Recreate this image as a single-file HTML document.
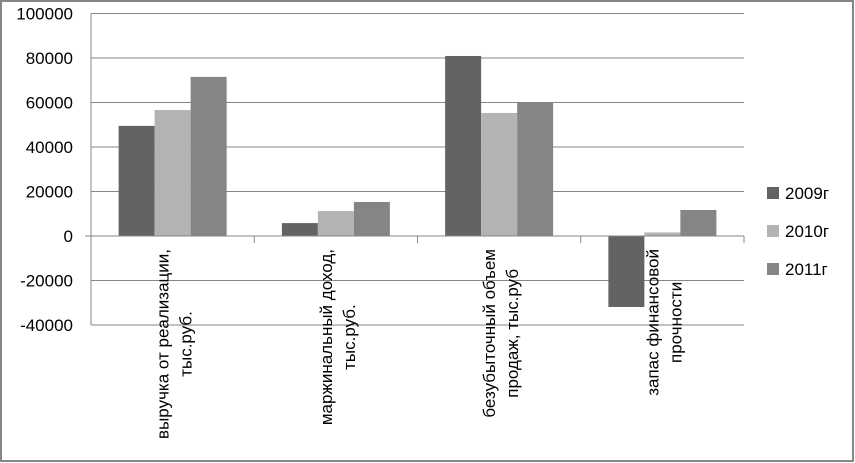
<!DOCTYPE html>
<html><head><meta charset="utf-8">
<style>
html,body{margin:0;padding:0;background:#fff;}
svg{display:block;font-family:"Liberation Sans","DejaVu Sans",sans-serif;}
</style></head>
<body>
<svg id="chart" width="855" height="463" viewBox="0 0 855 463">
<rect x="1" y="1" width="852" height="460" fill="#fff" stroke="#868686" stroke-width="2"/>
<g id="grid"></g><g id="bars"></g><g id="axes"></g><g id="labels"></g><g id="legend"></g>
</svg>
<script>
const categories = [["выручка от реализации,","тыс.руб."],["маржинальный доход,","тыс.руб."],["безубыточный объем","продаж, тыс.руб"],["запас финансовой","прочности"]];
const seriesNames = ["2009г","2010г","2011г"];
const s2009 = [49500, 5800, 80900, -31900];
const s2010 = [56600, 11200, 55300, 1600];
const s2011 = [71500, 15300, 60000, 11700];
const yTicks = [100000, 80000, 60000, 40000, 20000, 0, -20000, -40000];
const colors = ["#636363","#b3b3b3","#858585"];
const NS="http://www.w3.org/2000/svg";
const X0=91, X1=744, Y0=236, pxPer=222.5/100000;
function y(v){return Y0 - v*pxPer;}
const cw=(X1-X0)/categories.length;
function cx(i){return X0+cw*i;}
function mk(tag,attrs,parent){const e=document.createElementNS(NS,tag);for(const k in attrs)e.setAttribute(k,attrs[k]);parent.appendChild(e);return e;}
const grid=document.getElementById('grid'),axes=document.getElementById('axes'),bars=document.getElementById('bars'),labels=document.getElementById('labels'),legend=document.getElementById('legend');
yTicks.forEach(t=>{
  if(t!==0){const l=mk('line',{x1:X0,x2:X1,y1:y(t),y2:y(t),stroke:'#868686','stroke-width':1},grid);
  
  }
  const tx=mk('text',{x:73,y:y(t)+6,'text-anchor':'end','font-size':17,fill:'#000'},axes);
  tx.textContent=t;
  
  
});
const va=mk('line',{x1:X0,x2:X0,y1:y(yTicks[0]),y2:y(yTicks[yTicks.length-1]),stroke:'#868686','stroke-width':1},axes);


const series=[s2009,s2010,s2011];
const bw=36, gStart=(cw-bw*3)/2;
categories.forEach((c,i)=>{
  series.forEach((s,j)=>{
    const v=s[i];const top=Math.min(y(v),y(0));const h=Math.abs(y(v)-y(0));
    const r=mk('rect',{x:cx(i)+gStart+j*bw,y:top,width:bw,height:h,fill:colors[j]},bars);
    
    
  });
});
const xa=mk('line',{x1:X0-6,x2:X1,y1:Y0,y2:Y0,stroke:'#868686','stroke-width':1},axes);


for(let i=1;i<=categories.length;i++){
  const tk=mk('line',{x1:cx(i),x2:cx(i),y1:Y0,y2:Y0+7,stroke:'#868686','stroke-width':1},axes);
  
  
}
categories.forEach((c,i)=>{
  const center=cx(i)+cw/2;
  const g=mk('g',{},labels);
  
  
  const texts=c.map((line,k)=>{
    const t=mk('text',{'font-size':17,fill:'#000','text-anchor':'middle'},g);
    t.textContent=line;return t;
  });
  const L=Math.max(...texts.map(t=>t.getComputedTextLength()));
  texts.forEach((t,k)=>{
    const px=center-4+k*23, py=249+L/2;
    t.setAttribute('transform','translate('+px+','+py+') rotate(-90)');
  });
});
seriesNames.forEach((n,j)=>{
  const yy=193+j*38;
  const r=mk('rect',{x:767,y:yy-6,width:12,height:12,fill:colors[j]},legend);
  
  
  const t=mk('text',{x:785,y:yy+6,'font-size':17,fill:'#000'},legend);
  t.textContent=n;
  
  
});
</script>
</body></html>
